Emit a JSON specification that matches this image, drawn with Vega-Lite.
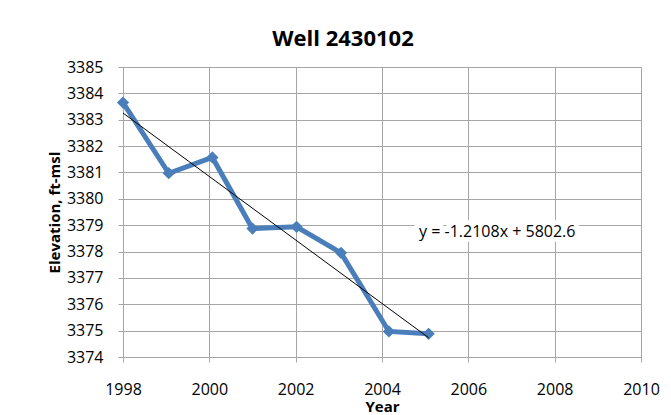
{
  "$schema": "https://vega.github.io/schema/vega-lite/v6.json",
  "autosize": {"type": "none"},
  "width": 518,
  "height": 290,
  "padding": {"left": 123, "top": 67, "right": 30, "bottom": 58},
  "background": "white",
  "config": {
    "font": "Open Sans",
    "view": {"stroke": "#a0a0a0", "strokeWidth": 1},
    "axis": {
      "gridColor": "#a6a6a6",
      "gridOpacity": 1,
      "gridWidth": 1,
      "domainColor": "#a6a6a6",
      "tickColor": "#a6a6a6",
      "tickSize": 5,
      "labelFont": "Open Sans",
      "labelFontSize": 16,
      "labelColor": "#000000",
      "labelOverlap": false,
      "labelFlush": false,
      "titleFont": "Open Sans",
      "titleFontSize": 15,
      "titleFontWeight": "bold",
      "titleColor": "#000000"
    }
  },
  "title": {
    "text": "Well 2430102",
    "font": "Open Sans",
    "fontSize": 22,
    "fontWeight": "bold",
    "color": "#000000",
    "anchor": "middle",
    "frame": "group",
    "dx": -39,
    "offset": 8
  },
  "data": {
    "values": [
      {"year": 1998.0, "elev": 3383.65},
      {"year": 1999.06, "elev": 3380.97},
      {"year": 2000.07, "elev": 3381.57},
      {"year": 2001.0, "elev": 3378.87},
      {"year": 2002.02, "elev": 3378.94},
      {"year": 2003.05, "elev": 3377.95},
      {"year": 2004.16, "elev": 3374.97},
      {"year": 2005.08, "elev": 3374.88}
    ]
  },
  "encoding": {
    "x": {
      "field": "year", "type": "quantitative",
      "scale": {"domain": [1998, 2010], "nice": false, "zero": false},
      "axis": {"values": [1998, 2000, 2002, 2004, 2006, 2008, 2010], "format": "d", "title": "Year", "labelPadding": 19, "titlePadding": 2}
    },
    "y": {
      "field": "elev", "type": "quantitative",
      "scale": {"domain": [3374, 3385], "nice": false, "zero": false},
      "axis": {"values": [3374, 3375, 3376, 3377, 3378, 3379, 3380, 3381, 3382, 3383, 3384, 3385], "format": "d", "title": "Elevation, ft-msl", "labelPadding": 15, "titlePadding": 4}
    }
  },
  "layer": [
    {
      "mark": {"type": "line", "color": "#4a7ebb", "strokeWidth": 5, "point": {"shape": "diamond", "size": 150, "filled": true, "color": "#4a7ebb"}}
    },
    {
      "transform": [{"regression": "elev", "on": "year"}],
      "mark": {"type": "line", "color": "#000000", "strokeWidth": 1}
    },
    {
      "transform": [{"filter": "datum.year == 1998"}],
      "mark": {"type": "text", "fontSize": 16, "font": "Open Sans", "align": "center", "baseline": "middle", "stroke": "white", "strokeWidth": 10, "strokeJoin": "round", "fill": "white"},
      "encoding": {
        "x": {"datum": 2006.67, "type": "quantitative"},
        "y": {"datum": 3378.73, "type": "quantitative"},
        "text": {"value": "y = -1.2108x + 5802.6"}
      }
    },
    {
      "transform": [{"filter": "datum.year == 1998"}],
      "mark": {"type": "text", "fontSize": 16, "font": "Open Sans", "fontWeight": "normal", "align": "center", "baseline": "middle", "fill": "#000000"},
      "encoding": {
        "x": {"datum": 2006.67, "type": "quantitative"},
        "y": {"datum": 3378.73, "type": "quantitative"},
        "text": {"value": "y = -1.2108x + 5802.6"}
      }
    }
  ]
}
